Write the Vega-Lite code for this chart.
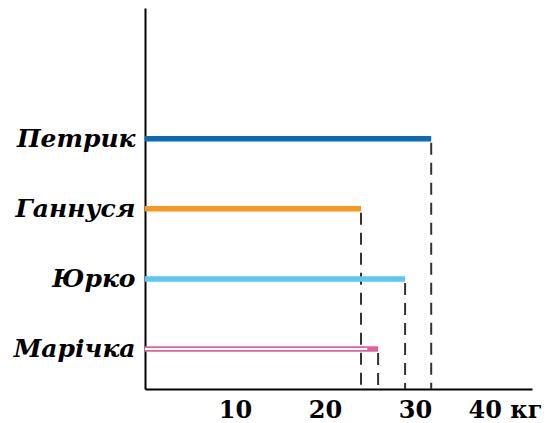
{
  "$schema": "https://vega.github.io/schema/vega-lite/v6.json",
  "width": 387,
  "height": 381,
  "autosize": "none",
  "padding": {"left": 145, "top": 8, "right": 15, "bottom": 34},
  "background": "white",
  "config": {"view": {"stroke": null}},
  "data": {"values": [
    {"name": "Петрик", "kg": 31.8, "inner": null},
    {"name": "Ганнуся", "kg": 24, "inner": null},
    {"name": "Юрко", "kg": 28.9, "inner": null},
    {"name": "Марічка", "kg": 25.9, "inner": 24.7}
  ]},
  "layer": [
    {
      "mark": {"type": "rule", "strokeDash": [12, 8], "strokeDashOffset": -4, "strokeWidth": 2, "color": "#333"},
      "encoding": {
        "y": {
          "field": "name", "type": "nominal", "sort": null,
          "scale": {"type": "band", "paddingInner": 0, "paddingOuter": 0.72, "align": 0.95},
          "axis": {
            "title": null, "ticks": false, "grid": false,
            "domainColor": "black", "domainWidth": 2,
            "labelFont": "DejaVu Serif", "labelFontWeight": "bold", "labelFontStyle": "italic",
            "labelFontSize": 25, "labelColor": "black", "labelPadding": 10
          }
        },
        "x": {"field": "kg", "type": "quantitative",
          "scale": {"domain": [0, 43], "nice": false},
          "axis": {
            "title": null, "values": [10, 20, 30, 40], "ticks": false, "grid": false,
            "domainColor": "black", "domainWidth": 2,
            "labelExpr": "datum.value == 40 ? '40 кг' : datum.label",
            "labelFont": "DejaVu Serif", "labelFontWeight": "bold",
            "labelFontSize": 24, "labelColor": "black", "labelPadding": 9
          }
        },
        "y2": {"value": 381}
      }
    },
    {
      "mark": {"type": "rule", "strokeWidth": 5.5},
      "encoding": {
        "y": {"field": "name", "type": "nominal", "sort": null},
        "x": {"field": "kg", "type": "quantitative"},
        "x2": {"datum": 0},
        "color": {"field": "name", "type": "nominal", "legend": null,
          "scale": {"domain": ["Петрик", "Ганнуся", "Юрко", "Марічка"],
                    "range": ["#0b6cb3", "#f7981f", "#5bc8f0", "#e2609a"]}}
      }
    },
    {
      "transform": [{"filter": "datum.inner != null"}],
      "mark": {"type": "rule", "strokeWidth": 2, "color": "white"},
      "encoding": {
        "y": {"field": "name", "type": "nominal", "sort": null},
        "x": {"field": "inner", "type": "quantitative"},
        "x2": {"datum": 0}
      }
    }
  ]
}
